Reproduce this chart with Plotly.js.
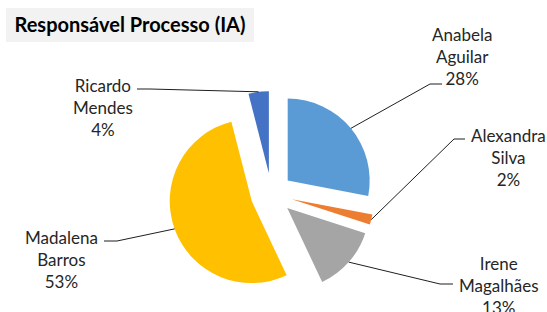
<!DOCTYPE html>
<html>
<head>
<meta charset="utf-8">
<script src="https://cdn.plot.ly/plotly-3.0.1.min.js"></script>
<style>html,body{margin:0;padding:0;background:#fff;}#chart{width:547px;height:312px;}</style>
</head>
<body>
<div id="chart"></div>
<script>
// ---- data ----
const chartTitle = 'Responsável Processo (IA)';
const names = ['Anabela Aguilar', 'Alexandra Silva', 'Irene Magalhães', 'Madalena Barros', 'Ricardo Mendes'];
const values = [28, 2, 13, 53, 4];
const colors = ['#5B9BD5', '#ED7D31', '#A5A5A5', '#FFC000', '#4472C4'];

// ---- layout (pixels) ----
const W = 547, H = 312;
const pieCx = 271.5, pieCy = 194, pieHalf = 103, pullFrac = 0.256;
const labelCenters = [[462, 56], [508, 157], [499, 285], [61.5, 259], [103, 107]];
const leaderElbows = [[430, 84], [454, 139], [440, 284], [117, 241], [150, 89]];
const leaderEnds = [[442, 84], [465, 139], [453, 284], [104, 241], [137, 89]];

const px = x => x / W, py = y => 1 - y / H;
const R = pieHalf / (1 + pullFrac);
const total = values.reduce((a, b) => a + b, 0);

const annotations = [], shapes = [];
// title box
shapes.push({type: 'rect', xref: 'paper', yref: 'paper', x0: px(6), x1: px(254), y0: py(42), y1: py(8),
  fillcolor: '#F2F2F2', line: {width: 0}, layer: 'below'});

let cum = 0;
values.forEach((v, i) => {
  const mid = (cum + v / 2) / total * 2 * Math.PI;
  cum += v;
  const dx = Math.sin(mid), dy = -Math.cos(mid);
  const dist = pullFrac * R + 1.0 * R;
  const ax = pieCx + dx * dist, ay = pieCy + dy * dist;
  const e = leaderElbows[i], f = leaderEnds[i];
  shapes.push({type: 'path', xref: 'paper', yref: 'paper',
    path: `M${px(ax)},${py(ay)} L${px(e[0])},${py(e[1])} L${px(f[0])},${py(f[1])}`,
    line: {color: '#1f1f1f', width: 1}});
  const pct = Math.round(v / total * 100) + '%';
  annotations.push({xref: 'paper', yref: 'paper', x: px(labelCenters[i][0]), y: py(labelCenters[i][1]),
    xanchor: 'center', yanchor: 'middle', showarrow: false, align: 'center',
    text: names[i].split(' ').join('<br>') + '<br>' + pct,
    font: {family: 'Lato, Carlito, sans-serif', size: 17, color: '#262626'}});
});

const trace = {
  type: 'pie', values: values, labels: names, sort: false, direction: 'clockwise', rotation: 0,
  pull: values.map(() => pullFrac), textinfo: 'none', hoverinfo: 'label+percent',
  marker: {colors: colors, line: {width: 0}},
  domain: {x: [px(pieCx - pieHalf), px(pieCx + pieHalf)], y: [py(pieCy + pieHalf), py(pieCy - pieHalf)]},
  showlegend: false
};

const layout = {
  width: W, height: H, margin: {l: 0, r: 0, t: 0, b: 0},
  paper_bgcolor: '#ffffff', plot_bgcolor: '#ffffff',
  title: {text: '<b>' + chartTitle + '</b>', x: px(130), xanchor: 'center', y: py(25), yanchor: 'middle',
    font: {family: 'Lato, Carlito, sans-serif', size: 20, color: '#000000'}},
  shapes: shapes, annotations: annotations, showlegend: false
};
Plotly.newPlot('chart', [trace], layout, {displayModeBar: false, staticPlot: true});
</script>
</body>
</html>
